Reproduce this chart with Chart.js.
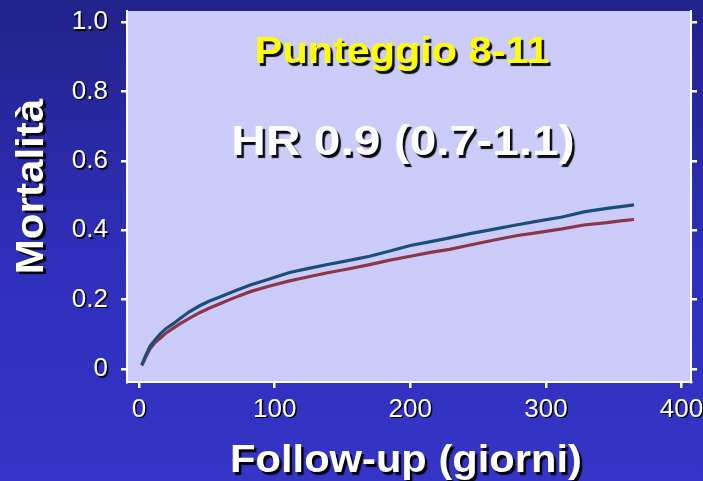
<!DOCTYPE html>
<html>
<head>
<meta charset="utf-8">
<script src="https://cdn.jsdelivr.net/npm/chart.js@4.4.1/dist/chart.umd.min.js"></script>
<style>
html,body{margin:0;padding:0;background:#2a2aa8;}
canvas{display:block;}
</style>
</head>
<body>
<canvas id="c" width="703" height="481"></canvas>
<script>
// ---- Data ----
const days = [2, 5, 8, 12, 16, 20, 25, 30, 37, 45, 52, 60, 70, 82, 95, 111, 125, 140, 155, 170, 185, 200, 215, 229, 245, 262, 278, 295, 312, 328, 345, 355, 365];
const seriesBlue = [0.012, 0.040, 0.065, 0.085, 0.103, 0.117, 0.130, 0.145, 0.165, 0.183, 0.196, 0.208, 0.224, 0.242, 0.258, 0.278, 0.290, 0.302, 0.313, 0.325, 0.340, 0.356, 0.367, 0.378, 0.391, 0.403, 0.415, 0.427, 0.438, 0.453, 0.463, 0.468, 0.473];
const seriesRed  = [0.010, 0.035, 0.058, 0.077, 0.090, 0.104, 0.117, 0.130, 0.146, 0.163, 0.176, 0.189, 0.205, 0.223, 0.238, 0.254, 0.266, 0.278, 0.289, 0.301, 0.314, 0.325, 0.336, 0.345, 0.358, 0.372, 0.384, 0.394, 0.404, 0.415, 0.422, 0.427, 0.431];
const xTicks = [0, 100, 200, 300, 400];
const yTicks = [0, 0.2, 0.4, 0.6, 0.8, 1.0];
const yTickLabels = ["0", "0.2", "0.4", "0.6", "0.8", "1.0"];
const titleText = "Punteggio 8-11";
const hrText = "HR 0.9 (0.7-1.1)";
const xTitle = "Follow-up (giorni)";
const yTitle = "Mortalità";

const FONT = "'Liberation Sans', Arial, Helvetica, sans-serif";

function drawStretched(ctx, text, x, y, font, color, sx, rot, off) {
  ctx.save();
  ctx.translate(x, y);
  if (rot) ctx.rotate(rot);
  ctx.scale(sx, 1);
  ctx.font = font;
  ctx.textAlign = 'center';
  ctx.textBaseline = 'alphabetic';
  ctx.shadowColor = 'rgba(0,0,0,0.95)';
  ctx.shadowOffsetX = off;
  ctx.shadowOffsetY = off;
  ctx.shadowBlur = 1;
  ctx.fillStyle = color;
  ctx.fillText(text, 0, 0);
  ctx.restore();
}

const decor = {
  id: 'decor',
  beforeDraw(chart) {
    const ctx = chart.ctx;
    const a = chart.chartArea;
    ctx.shadowColor = 'rgba(0,0,0,0)';
    ctx.shadowOffsetX = 0; ctx.shadowOffsetY = 0; ctx.shadowBlur = 0;
    ctx.save();
    const g = ctx.createLinearGradient(0, 0, 0, chart.height);
    g.addColorStop(0, '#22228a');
    g.addColorStop(0.55, '#2f2fbc');
    g.addColorStop(1, '#3434c6');
    ctx.fillStyle = g;
    ctx.fillRect(0, 0, chart.width, chart.height);
    ctx.fillStyle = '#ccccfb';
    ctx.fillRect(a.left, a.top, a.right - a.left, a.bottom - a.top);
    ctx.restore();
  },
  afterDatasetsDraw(chart) {
    const ctx = chart.ctx;
    ctx.shadowColor = 'rgba(0,0,0,0.95)';
    ctx.shadowOffsetX = 1.5;
    ctx.shadowOffsetY = 1.5;
    ctx.shadowBlur = 0.5;
  },
  afterDraw(chart) {
    const ctx = chart.ctx;
    ctx.shadowColor = 'rgba(0,0,0,0)';
    ctx.shadowOffsetX = 0; ctx.shadowOffsetY = 0; ctx.shadowBlur = 0;
    drawStretched(ctx, titleText, 402, 63, "bold 36px " + FONT, '#ffff00', 1.15, 0, 2.5);
    drawStretched(ctx, hrText, 403, 155, "bold 42px " + FONT, '#ffffff', 1.14, 0, 2.5);
    drawStretched(ctx, xTitle, 406, 472, "bold 39.5px " + FONT, '#ffffff', 1.055, 0, 2.5);
    drawStretched(ctx, yTitle, 43, 186.5, "bold 39px " + FONT, '#ffffff', 1.08, -Math.PI / 2, 2.5);
  }
};

const axisCommon = {
  grid: { drawOnChartArea: false, drawTicks: true, tickLength: 6, color: '#ffffff', lineWidth: 2.5 },
  border: { display: true, color: '#ffffff', width: 2 }
};

function noPad(s) { s.paddingTop = 0; s.paddingBottom = 0; s.paddingLeft = 0; s.paddingRight = 0; }

new Chart(document.getElementById('c'), {
  type: 'line',
  data: {
    datasets: [
      {
        label: 'A',
        data: days.map((d, i) => ({ x: d, y: seriesBlue[i] })),
        borderColor: '#1b4e78',
        borderWidth: 3.2,
        pointRadius: 0,
        tension: 0,
        fill: false
      },
      {
        label: 'B',
        data: days.map((d, i) => ({ x: d, y: seriesRed[i] })),
        borderColor: '#8c3746',
        borderWidth: 3.2,
        pointRadius: 0,
        tension: 0,
        fill: false
      }
    ]
  },
  options: {
    responsive: false,
    animation: false,
    devicePixelRatio: 1,
    layout: { padding: { top: 11, left: 0, right: 0, bottom: 0 } },
    plugins: { legend: { display: false }, tooltip: { enabled: false }, title: { display: false } },
    scales: {
      x: {
        type: 'linear',
        position: 'bottom',
        min: -8.9,
        max: 407,
        afterBuildTicks(s) { s.ticks = xTicks.map(v => ({ value: v })); },
        afterFit(s) { s.height = 99; noPad(s); },
        ticks: {
          z: 1,
          autoSkip: false,
          maxRotation: 0,
          padding: 6,
          color: '#ffffff',
          font: { family: FONT, size: 26 },
          callback: (v) => String(v)
        },
        ...axisCommon
      },
      y: {
        type: 'linear',
        position: 'left',
        min: -0.0375,
        max: 1.032,
        afterBuildTicks(s) { s.ticks = yTicks.map(v => ({ value: v })); },
        afterFit(s) { s.width = 127; noPad(s); },
        ticks: {
          z: 1,
          padding: 13,
          color: '#ffffff',
          font: { family: FONT, size: 26 },
          callback: (v) => { const i = yTicks.findIndex(t => Math.abs(t - v) < 1e-6); return i >= 0 ? yTickLabels[i] : ''; }
        },
        ...axisCommon
      },
      y2: {
        type: 'linear',
        position: 'right',
        min: -0.0375,
        max: 1.032,
        afterBuildTicks(s) { s.ticks = yTicks.map(v => ({ value: v })); },
        afterFit(s) { s.width = 12; noPad(s); },
        ticks: { display: false },
        ...axisCommon
      }
    }
  },
  plugins: [decor]
});
</script>
</body>
</html>
